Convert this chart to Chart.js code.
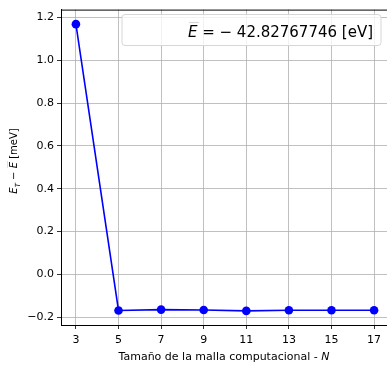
<!DOCTYPE html>
<html>
<head>
<meta charset="utf-8">
<script src="https://cdn.jsdelivr.net/npm/chart.js@4.4.1/dist/chart.umd.min.js"></script>
<style>
  html, body { margin: 0; padding: 0; background: #fff; overflow: hidden; }
  #wrap { width: 420px; height: 366px; }
</style>
</head>
<body>
<div id="wrap"><canvas id="mycanvas"></canvas></div>
<script>
// grid sizes N and energy difference (meV) against the mean energy
var meshSizes = [3, 5, 7, 9, 11, 13, 15, 17];
var deltaE = [1.169, -0.169, -0.165, -0.167, -0.171, -0.168, -0.168, -0.168];
var xTicks = [3, 5, 7, 9, 11, 13, 15, 17];
var yTicks = [-0.2, 0.0, 0.2, 0.4, 0.6, 0.8, 1.0, 1.2];
var meanEnergy = '42.82767746';

var FONT = '"DejaVu Sans", sans-serif';

function minus(s) { return s.replace('-', '\u2212'); }

// top spine, axis titles and the mean energy box
var extras = {
  id: 'extras',
  afterDraw: function (chart) {
    var c = chart.ctx, a = chart.chartArea;
    c.save();
    c.strokeStyle = '#000';
    c.lineWidth = 1;
    c.beginPath();
    c.moveTo(a.left, a.top + 0.5);
    c.lineTo(a.right, a.top + 0.5);
    c.stroke();

    // legend box
    var bx = 122, by = 14.5, bw = 259, bh = 31, r = 3;
    c.fillStyle = 'rgba(255,255,255,0.8)';
    c.strokeStyle = '#d6d6d6';
    c.beginPath();
    c.moveTo(bx + r, by);
    c.arcTo(bx + bw, by, bx + bw, by + bh, r);
    c.arcTo(bx + bw, by + bh, bx, by + bh, r);
    c.arcTo(bx, by + bh, bx, by, r);
    c.arcTo(bx, by, bx + bw, by, r);
    c.closePath();
    c.fill();
    c.stroke();

    c.fillStyle = '#000';
    c.textBaseline = 'alphabetic';
    var ty = 37;
    var rest = ' = \u2212 ' + meanEnergy + ' [eV]';
    c.font = '15px ' + FONT;
    var restW = c.measureText(rest).width;
    var xr = 373;
    c.textAlign = 'left';
    c.fillText(rest, xr - restW, ty);
    c.font = 'italic 15px ' + FONT;
    var eW = c.measureText('E').width;
    var ex = xr - restW - eW;
    c.fillText('E', ex, ty);
    c.lineWidth = 1.2;
    c.beginPath();
    c.moveTo(ex + 1, ty - 14.5);
    c.lineTo(ex + eW + 1.5, ty - 14.5);
    c.stroke();

    // x axis title
    var xt = 'Tama\u00f1o de la malla computacional - ';
    c.font = 'italic 11px ' + FONT;
    var nW = c.measureText('N').width;
    c.font = '11px ' + FONT;
    var xtW = c.measureText(xt).width;
    var cx = (a.left + 389) / 2 - 1;
    var sx = cx - (xtW + nW) / 2;
    c.fillText(xt, sx, 360);
    c.font = 'italic 11px ' + FONT;
    c.fillText('N', sx + xtW, 360);

    // y axis title, rotated
    c.translate(17, 161);
    c.rotate(-Math.PI / 2);
    c.font = 'italic 10px ' + FONT;
    var w1 = c.measureText('E').width;
    c.font = 'italic 7px ' + FONT;
    var w2 = c.measureText('T').width;
    c.font = '10px ' + FONT;
    var mid = ' \u2212 ';
    var w3 = c.measureText(mid).width;
    c.font = 'italic 10px ' + FONT;
    var w4 = c.measureText('E').width;
    c.font = '10px ' + FONT;
    var tail = ' [meV]';
    var w5 = c.measureText(tail).width;
    var total = w1 + w2 + w3 + w4 + w5;
    var px = -total / 2;
    c.font = 'italic 10px ' + FONT;
    c.fillText('E', px, 0); px += w1;
    c.font = 'italic 7px ' + FONT;
    c.fillText('T', px, 2.5); px += w2;
    c.font = '10px ' + FONT;
    c.fillText(mid, px, 0); px += w3;
    c.font = 'italic 10px ' + FONT;
    c.fillText('E', px, 0);
    c.lineWidth = 0.9;
    c.beginPath();
    c.moveTo(px + 0.5, -9.5);
    c.lineTo(px + w4 + 1, -9.5);
    c.stroke();
    px += w4;
    c.font = '10px ' + FONT;
    c.fillText(tail, px, 0);
    c.restore();
  }
};

var points = meshSizes.map(function (n, i) { return { x: n, y: deltaE[i] }; });

new Chart(document.getElementById('mycanvas'), {
  type: 'line',
  data: {
    datasets: [{
      data: points,
      borderColor: '#0000ff',
      backgroundColor: '#0000ff',
      borderWidth: 1.6,
      pointRadius: 4.3,
      pointBorderWidth: 0,
      pointHoverRadius: 4.3,
      tension: 0
    }]
  },
  options: {
    responsive: true,
    maintainAspectRatio: false,
    animation: false,
    events: [],
    layout: { padding: { left: 0, right: 31, top: 6, bottom: 0 } },
    plugins: { legend: { display: false }, tooltip: { enabled: false } },
    scales: {
      x: {
        type: 'linear',
        min: 2.3,
        max: 17.7,
        afterBuildTicks: function (s) { s.ticks = xTicks.map(function (v) { return { value: v }; }); },
        afterFit: function (s) { s.height = 41; },
        grid: { color: '#b0b0b0', lineWidth: 0.8, tickColor: '#000', tickLength: 4, drawTicks: true },
        border: { display: true, color: '#000', width: 1 },
        ticks: {
          color: '#000', font: { family: FONT, size: 11 }, padding: 5,
          maxRotation: 0, autoSkip: false,
          callback: function (v) { return String(v); }
        }
      },
      y: {
        min: -0.237,
        max: 1.237,
        afterBuildTicks: function (s) { s.ticks = yTicks.map(function (v) { return { value: v }; }); },
        afterFit: function (s) { s.width = 61; },
        grid: { color: '#b0b0b0', lineWidth: 0.8, tickColor: '#000', tickLength: 4, drawTicks: true },
        border: { display: true, color: '#000', width: 1 },
        ticks: {
          color: '#000', font: { family: FONT, size: 11 }, padding: 3,
          autoSkip: false,
          callback: function (v) { return minus(v.toFixed(1)); }
        }
      }
    }
  },
  plugins: [extras]
});
</script>
</body>
</html>
